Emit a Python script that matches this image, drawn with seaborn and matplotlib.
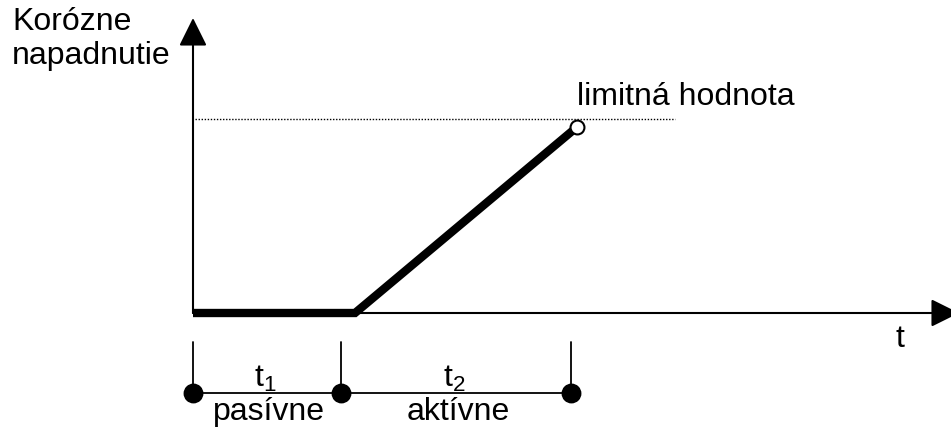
import matplotlib
matplotlib.use("Agg")
import matplotlib.pyplot as plt
import seaborn as sns
import pandas as pd

# ------------------------------------------------------------
#  data (schematic units: 1 unit ~ 100 px)
# ------------------------------------------------------------
curve_time = [0.0, 1.62, 3.84]      # start, end of passive phase, limit reached
curve_attack = [0.0, 0.0, 1.86]
limit_value = 1.94
limit_end = 4.82
timeline_ticks = [0.0, 1.48, 3.78]
phase_symbols = [r"t$_{\mathrm{1}}$", r"t$_{\mathrm{2}}$"]
phase_names = ["pasívne", "aktívne"]
y_label = ["Korózne", "napadnutie"]
limit_label = "limitná hodnota"
x_label = "t"

sns.set_theme(style="white")
plt.rcParams["font.family"] = ["Liberation Sans", "DejaVu Sans"]
plt.rcParams["text.color"] = "black"
plt.rcParams["mathtext.fontset"] = "custom"
plt.rcParams["mathtext.rm"] = "Liberation Sans"
plt.rcParams["mathtext.it"] = "Liberation Sans"

fig = plt.figure(figsize=(9.51, 4.28), dpi=100)
ax = fig.add_axes([0, 0, 1, 1])
ax.set_xlim(-1.93, 7.58)
ax.set_ylim(-1.15, 3.13)
ax.axis("off")

FS = 23

# axes with arrows
arrow = dict(arrowstyle="-|>,head_length=1.45,head_width=0.72", lw=1.5,
             color="black", shrinkA=0, shrinkB=0)
ax.annotate("", xy=(0, 2.95), xytext=(0, 0), arrowprops=arrow, annotation_clip=False)
ax.annotate("", xy=(7.66, 0), xytext=(0, 0), arrowprops=arrow, annotation_clip=False)

# limit value (dotted)
ax.plot([0.02, limit_end], [limit_value, limit_value], color="black", lw=1,
        linestyle=(0, (1, 1.2)))

# corrosion curve
df = pd.DataFrame({"t": curve_time, "attack": curve_attack})
sns.lineplot(data=df, x="t", y="attack", ax=ax, color="black", lw=6,
             solid_capstyle="butt", solid_joinstyle="miter", sort=False)
ax.plot(curve_time[-1], curve_attack[-1], "o", ms=10, mfc="white",
        mec="black", mew=1.5, zorder=5)

# timeline below
for tk in timeline_ticks:
    ax.plot([tk, tk], [-0.29, -0.80], color="black", lw=1.3)
ax.plot([timeline_ticks[0], timeline_ticks[-1]], [-0.80, -0.80], color="black", lw=1.3)
sns.scatterplot(x=timeline_ticks, y=[-0.80] * len(timeline_ticks), ax=ax,
                s=175, color="black", edgecolor="black", zorder=5, legend=False)

for i in range(len(phase_names)):
    mid = (timeline_ticks[i] + timeline_ticks[i + 1]) / 2
    ax.text(mid - 0.02, -0.74, phase_symbols[i], fontsize=FS, ha="center", va="baseline")
    ax.text(mid + 0.02, -1.07, phase_names[i], fontsize=FS, ha="center", va="baseline")

# labels
ax.text(-1.81, 2.83, y_label[0], fontsize=FS, ha="left", va="baseline")
ax.text(-1.81, 2.49, y_label[1], fontsize=FS, ha="left", va="baseline")
ax.text(3.84, 2.08, limit_label, fontsize=FS, ha="left", va="baseline")
ax.text(7.07, -0.34, x_label, fontsize=FS, ha="center", va="baseline")

fig.savefig("out.png", dpi=100)
